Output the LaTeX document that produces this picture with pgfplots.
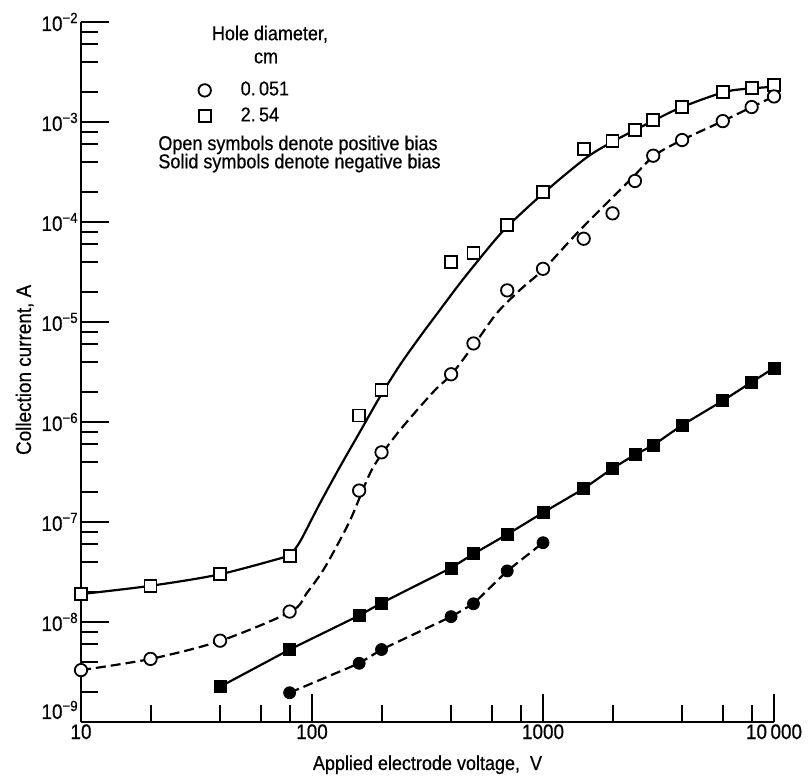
\documentclass[border=0pt]{standalone}
\usepackage{pgfplots}
\pgfplotsset{compat=1.18}
\usepackage{pgfplotstable}
\usepackage{fontspec}
\setmainfont{Liberation Sans}[FakeStretch=0.9, FakeBold=0.6]

% open squares: 2.54 cm, positive bias
\pgfplotstableread{
x y
10 1.9e-8
20 2.3e-8
40 3.0e-8
80 4.6e-8
160 1.16e-6
200 2.1e-6
400 3.95e-5
500 4.85e-5
700 9.4e-5
1000 2.0e-4
1500 5.4e-4
2000 6.5e-4
2500 8.3e-4
3000 1.04e-3
4000 1.41e-3
6000 2.0e-3
8000 2.17e-3
10000 2.36e-3
}\osq
% open circles: 0.051 cm, positive bias
\pgfplotstableread{
x y
10 3.3e-9
20 4.27e-9
40 6.5e-9
80 1.27e-8
160 2.06e-7
200 4.97e-7
400 3.0e-6
500 6.1e-6
700 2.07e-5
1000 3.4e-5
1500 6.8e-5
2000 1.22e-4
2500 2.57e-4
3000 4.6e-4
4000 6.6e-4
6000 1.02e-3
8000 1.41e-3
10000 1.8e-3
}\oci
% solid squares: 2.54 cm, negative bias
\pgfplotstableread{
x y
40 2.25e-9
80 5.3e-9
160 1.16e-8
200 1.55e-8
400 3.47e-8
500 4.8e-8
700 7.5e-8
1000 1.24e-7
1500 2.15e-7
2000 3.44e-7
2500 4.7e-7
3000 5.85e-7
4000 9.3e-7
6000 1.63e-6
8000 2.5e-6
10000 3.47e-6
}\ssq
% solid circles: 0.051 cm, negative bias
\pgfplotstableread{
x y
80 1.96e-9
160 3.86e-9
200 5.3e-9
400 1.13e-8
500 1.52e-8
700 3.24e-8
1000 6.2e-8
}\sci
% faired curve through open squares (low part)
\pgfplotstableread{
x y
10 1.9e-8
20 2.3e-8
40 3.0e-8
80 4.6e-8
}\osqfitA
% faired curve through open squares (high part)
\pgfplotstableread{
x y
80 4.6e-8
88.7 6.35e-8
108.3 1.54e-7
132.2 3.57e-7
161.4 8.0e-7
197 1.79e-6
240.4 3.72e-6
293.5 7.13e-6
358 1.32e-5
437 2.44e-5
533.6 4.34e-5
620 6.6e-5
714 9.4e-5
1016 1.99e-4
1530 4.34e-4
2030 6.46e-4
3030 1.04e-3
4000 1.41e-3
6130 2.0e-3
8100 2.17e-3
10000 2.25e-3
}\osqfitB
% faired curve through open circles
\pgfplotstableread{
x y
10 3.3e-9
20 4.27e-9
40 6.46e-9
81 1.27e-8
94.8 1.94e-8
111.9 3.31e-8
132.2 6.6e-8
148.6 1.13e-7
178.3 3.07e-7
203 4.97e-7
240.4 8.3e-7
293.5 1.42e-6
346.7 2.17e-6
402 3.0e-6
508 6.1e-6
630 1.22e-5
795 2.09e-5
1010 3.4e-5
1446 8.3e-5
2381 2.63e-4
3033 4.6e-4
4000 6.6e-4
6000 1.02e-3
8000 1.41e-3
10000 1.8e-3
}\ocifit

\begin{document}
\begin{tikzpicture}
\begin{axis}[
  scale only axis, width=346.5pt, height=350pt,
  xmode=log, ymode=log,
  xmin=10, xmax=10000, ymin=1e-9, ymax=1e-2,
  axis x line=bottom, axis y line=left,
  axis line style={-, line width=1pt},
  tick align=inside,
  xtick={10,100,1000,10000},
  xticklabels={10,100,1000,10\,000},
  minor xtick={20,40,60,80,200,400,600,800,2000,4000,6000,8000},
  ytick={1e-9,1e-8,1e-7,1e-6,1e-5,1e-4,1e-3,1e-2},
  yticklabels={\raisebox{1.5pt}[0pt][0pt]{10\textsuperscript{−9}},10\textsuperscript{−8},10\textsuperscript{−7},10\textsuperscript{−6},10\textsuperscript{−5},10\textsuperscript{−4},10\textsuperscript{−3},10\textsuperscript{−2}},
  minor ytick={2e-9,4e-9,6e-9,8e-9,2e-8,4e-8,6e-8,8e-8,2e-7,4e-7,6e-7,8e-7,2e-6,4e-6,6e-6,8e-6,2e-5,4e-5,6e-5,8e-5,2e-4,4e-4,6e-4,8e-4,2e-3,4e-3,6e-3,8e-3},
  major tick length=14pt, minor tick length=8.5pt,
  tick style={black, line width=1pt},
  ticklabel style={font=\fontsize{10.5}{12}\selectfont},
  xticklabel style={inner sep=1pt},
  yticklabel style={inner sep=1pt},
  xlabel={Applied electrode voltage,\ \ V},
  ylabel={Collection current,\ A},
  label style={font=\fontsize{10}{12}\selectfont},
  xlabel style={at={(axis description cs:0.5,-0.0686)}, anchor=base},
  ylabel style={at={(axis description cs:-0.0722,0.503)}, anchor=base, font=\fontsize{10.5}{12}\selectfont},
  clip=false,
  legend style={draw=none, fill=none, at={(rel axis cs:0.169,0.9214)}, anchor=north west,
    font=\fontsize{10}{12}\selectfont, row sep=0pt, inner sep=0pt,
    nodes={inner sep=1pt, text height=8pt, text depth=3pt}},
  legend cell align=left,
  legend image code/.code={\draw[#1] plot coordinates {(0.1cm,0cm)}; \path (0cm,0cm) (0.69cm,0cm);},
]
% faired curves
\addplot[black, line width=1.1pt, smooth, tension=0.5, forget plot] table {\osqfitA};
\addplot[black, line width=1.1pt, smooth, tension=0.5, forget plot] table {\osqfitB};
\addplot[black, line width=1.1pt, smooth, tension=0.5, dash pattern=on 5pt off 2.5pt, forget plot] table {\ocifit};
\addplot[black, line width=1.1pt, forget plot] table {\ssq};
\addplot[black, line width=1.1pt, dash pattern=on 5pt off 2.5pt, forget plot] table {\sci};
% data symbols
\addplot[only marks, mark=square*, mark size=3pt, mark options={fill=white, draw=black, line width=0.9pt, solid}, forget plot] table {\osq};
\addplot[only marks, mark=*, mark size=3.1pt, mark options={fill=white, draw=black, line width=0.9pt, solid}, forget plot] table {\oci};
\addplot[only marks, mark=square*, mark size=3pt, mark options={fill=black, draw=black, solid}, forget plot] table {\ssq};
\addplot[only marks, mark=*, mark size=3pt, mark options={fill=black, draw=black, solid}, forget plot] table {\sci};
% legend
\addlegendimage{black, mark=*, mark size=3.1pt, mark options={fill=white, draw=black, line width=0.9pt}}
\addlegendentry{0.\,051}
\addlegendimage{black, mark=square*, mark size=3pt, mark options={fill=white, draw=black, line width=0.9pt}}
\addlegendentry{2.\,54}
\node[anchor=base, font=\fontsize{10}{12}\selectfont] at (rel axis cs:0.2727,0.974) {Hole diameter,};
\node[anchor=base, font=\fontsize{10}{12}\selectfont] at (rel axis cs:0.267,0.941) {cm};
\node[anchor=base west, font=\fontsize{10}{12}\selectfont, inner sep=0pt] at (rel axis cs:0.1111,0.817) {Open symbols denote positive bias};
\node[anchor=base west, font=\fontsize{10}{12}\selectfont, inner sep=0pt] at (rel axis cs:0.1111,0.791) {Solid symbols denote negative bias};
\coordinate (bbbl) at (rel axis cs:-0.1169,-0.0771);
\coordinate (bbtr) at (rel axis cs:1.0505,1.0314);
\end{axis}
\pgfresetboundingbox
\path[use as bounding box] (bbbl) rectangle (bbtr);
\end{tikzpicture}
\end{document}
